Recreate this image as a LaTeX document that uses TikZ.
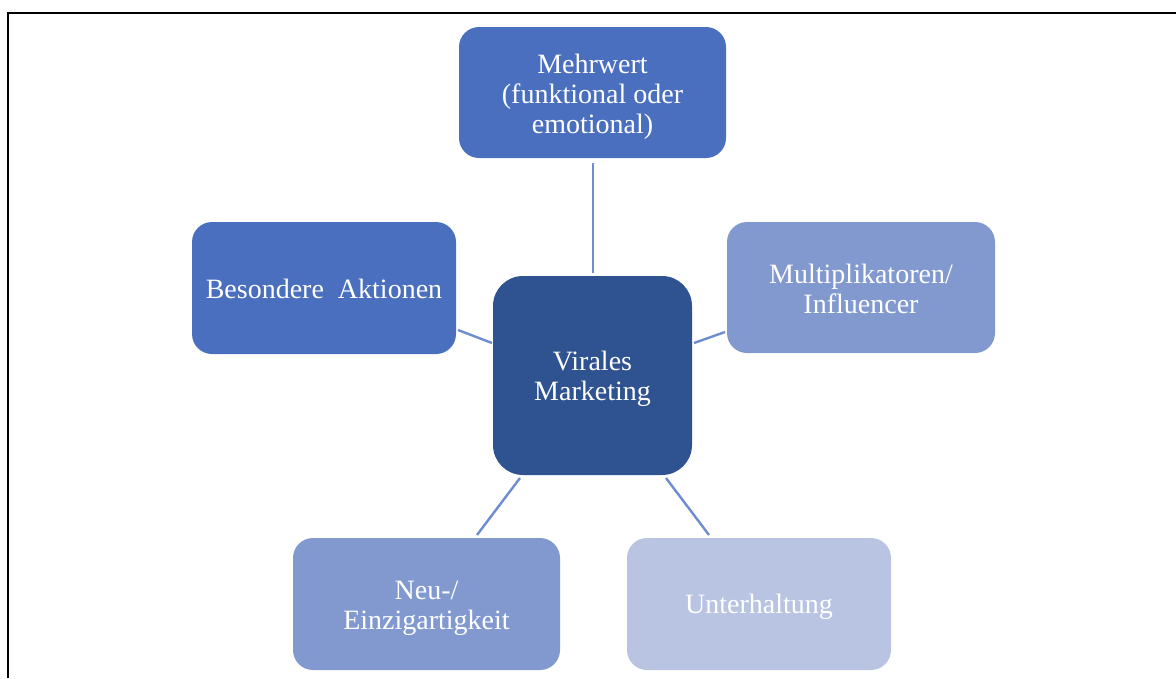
\documentclass[tikz,border=0pt]{standalone}
\usepackage{fontspec}
\setmainfont{Liberation Serif}
\definecolor{hub}{HTML}{2F5290}
\definecolor{darkleaf}{HTML}{4A6FBF}
\definecolor{midleaf}{HTML}{8299D0}
\definecolor{lightleaf}{HTML}{B8C4E2}
\definecolor{spoke}{HTML}{6E8DD0}
\begin{document}
\begin{tikzpicture}[x=1pt,y=-1pt,
  box/.style={rectangle, rounded corners=20pt, inner sep=0pt,
    minimum width=266pt, minimum height=131pt},
  txt/.style={text=white, align=center, inner sep=0pt,
    font=\fontsize{28}{30}\selectfont},
  spokeline/.style={draw=spoke, line width=2.4pt}]
\useasboundingbox (0,0) rectangle (1176,678);
% frame
\draw[line width=2.6pt] (8,678) -- (8,13) -- (1176,13);
% boxes
\node[box, fill=hub, rounded corners=30pt, minimum width=199pt, minimum height=199pt]
  (hub) at (592.5,375.5) {};
\node[box, fill=darkleaf, minimum width=267pt] (top) at (592.5,92.5) {};
\node[box, fill=darkleaf, minimum width=264pt, minimum height=132pt] (left) at (324,288) {};
\node[box, fill=midleaf, minimum width=268pt] (right) at (861,287.5) {};
\node[box, fill=midleaf, minimum width=267pt, minimum height=132pt] (bl) at (426.5,604) {};
\node[box, fill=lightleaf, minimum width=264pt, minimum height=132pt] (br) at (759,604) {};
% box texts
\node[txt] (hub-t) at ([yshift=-3pt]hub.center) {Virales\\Marketing};
\node[txt] (top-t) at ([yshift=-4pt]top.center) {Mehrwert\\(funktional oder\\emotional)};
\node[txt] (left-t) at ([yshift=-1pt]left.center) {Besondere\ \ Aktionen};
\node[txt] (right-t) at ([yshift=-1pt]right.center) {Multiplikatoren/\\Influencer};
\node[txt] (bl-t) at ([yshift=-4.5pt]bl.center) {Neu-/\\Einzigartigkeit};
\node[txt] (br-t) at ([yshift=-3pt]br.center) {Unterhaltung};
% connectors, each leaving a small gap to its boxes
\coordinate (t1) at (593,163); \coordinate (t2) at (593,273);
\coordinate (l1) at (458,330); \coordinate (l2) at (492,343);
\coordinate (r1) at (694,343); \coordinate (r2) at (725,332);
\coordinate (a1) at (520,478); \coordinate (a2) at (477,535);
\coordinate (b1) at (666,478); \coordinate (b2) at (709,535);
\draw[spokeline] (t1) -- (t2);
\draw[spokeline] (l1) -- (l2);
\draw[spokeline] (r1) -- (r2);
\draw[spokeline] (a1) -- (a2);
\draw[spokeline] (b1) -- (b2);
\end{tikzpicture}
\end{document}
